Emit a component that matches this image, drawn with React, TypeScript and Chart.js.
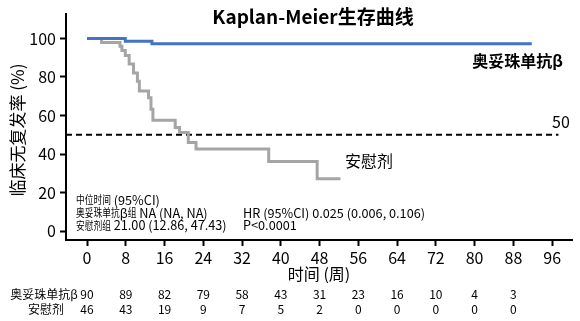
import React, { useEffect, useRef } from "react";
import { Chart, registerables } from "chart.js";

Chart.register(...registerables);

const TITLE = "Kaplan-Meier生存曲线";
const Y_TITLE = "临床无复发率 (%)";
const X_TITLE = "时间 (周)";
const SERIES_A = "奥妥珠单抗β";
const SERIES_B = "安慰剂";

const X_TICKS = [0, 8, 16, 24, 32, 40, 48, 56, 64, 72, 80, 88, 96];
const Y_TICKS = [0, 20, 40, 60, 80, 100];

const A_TIMES = [0, 7.9, 13.4, 91.8];
const A_VALUES = [100, 98.5, 97.3, 97.3];

const B_TIMES = [0, 3.0, 6.8, 7.2, 7.9, 8.7, 9.6, 10.4, 10.8, 12.7, 13.2, 13.6, 18.2, 19.1, 20.9, 22.5, 37.5, 47.5, 52.3];
const B_VALUES = [100, 97.9, 95.9, 93.7, 91.1, 86.8, 82.1, 77.8, 72.7, 69.2, 63.2, 57.6, 53.8, 51.2, 46.0, 42.6, 36.2, 27.2, 27.2];

const REF_LEVEL = 50;
const REF_END = 97.3;

const RISK_TIMES = [0, 8, 16, 24, 32, 40, 48, 56, 64, 72, 80, 88];
const RISK_A = [90, 89, 82, 79, 58, 43, 31, 23, 16, 10, 4, 3];
const RISK_B = [46, 43, 19, 9, 7, 5, 2, 0, 0, 0, 0, 0];

const ANNOT_LEFT = ["中位时间 (95%CI)", "奥妥珠单抗β组 NA (NA, NA)", "安慰剂组 21.00 (12.86, 47.43)"];
const ANNOT_RIGHT = ["HR (95%CI) 0.025 (0.006, 0.106)", "P<0.0001"];

const NARROW = "'Liberation Sans Narrow', 'Noto Sans CJK SC', sans-serif";
const CJK = "'Noto Sans CJK SC', sans-serif";

function drawMixed(ctx: any, text: string, x: number, y: number, latinPx: number, cjkPx: number, cjkScale: number) {
  const parts = text.split(/([\u4e00-\u9fff]+)/).filter((p) => p.length > 0);
  let cx = x;
  ctx.textAlign = "left";
  for (const p of parts) {
    const isCjk = /[\u4e00-\u9fff]/.test(p);
    ctx.font = isCjk ? `${cjkPx}px ${CJK}` : `${latinPx}px ${NARROW}`;
    const sc = isCjk ? cjkScale : 1;
    const w = ctx.measureText(p).width * sc;
    ctx.save();
    ctx.translate(cx, y);
    ctx.scale(sc, 1);
    ctx.fillText(p, 0, 0);
    ctx.restore();
    cx += w;
  }
}

const textPlugin = {
  id: "texts",
  afterDraw(chart: any) {
    const ctx = chart.ctx;
    const xs = chart.scales.x;
    const ca = chart.chartArea;
    ctx.save();
    ctx.fillStyle = "#000";
    ctx.textBaseline = "middle";

    ctx.font = `bold 19px ${CJK}`;
    ctx.textAlign = "center";
    ctx.fillText(TITLE, 313, 17);

    ctx.save();
    ctx.translate(18, 130);
    ctx.rotate(-Math.PI / 2);
    ctx.font = `17px ${CJK}`;
    ctx.fillText(Y_TITLE, 0, 0);
    ctx.restore();

    ctx.font = `16px ${CJK}`;
    ctx.textAlign = "center";
    ctx.fillText(X_TITLE, (ca.left + ca.right) / 2, 274);

    ctx.font = `bold 16px ${CJK}`;
    ctx.textAlign = "right";
    ctx.fillText(SERIES_A, 563, 61);

    ctx.font = `16px ${CJK}`;
    ctx.textAlign = "left";
    ctx.fillText(SERIES_B, 345, 161);

    ctx.font = `16px ${CJK}`;
    ctx.fillText(String(REF_LEVEL), 552, 122);

    ANNOT_LEFT.forEach((t, i) => drawMixed(ctx, t, 76, 200 + i * 12.8, 12.7, 11.2, 0.78));
    ANNOT_RIGHT.forEach((t, i) => drawMixed(ctx, t, 243, 212.8 + i * 12.8, 12.7, 11.2, 0.78));

    ctx.font = `12px ${NARROW}`;
    ctx.textAlign = "center";
    ctx.fillText(SERIES_A, 44, 294);
    ctx.fillText(SERIES_B, 46, 309);
    RISK_TIMES.forEach((t, i) => {
      const px = xs.getPixelForValue(t);
      ctx.fillText(String(RISK_A[i]), px, 294);
      ctx.fillText(String(RISK_B[i]), px, 309);
    });
    ctx.restore();
  },
};

export default function App() {
  const ref = useRef<HTMLCanvasElement | null>(null);
  useEffect(() => {
    if (!ref.current) return;
    const toPts = (ts: number[], vs: number[]) => ts.map((t, i) => ({ x: t, y: vs[i] }));
    const tickFont = { family: CJK, size: 16 };
    const chart = new Chart(ref.current, {
      type: "line",
      data: {
        datasets: [
          {
            label: SERIES_A,
            data: toPts(A_TIMES, A_VALUES),
            borderColor: "#4472C4",
            borderWidth: 3,
            stepped: true,
            pointRadius: 0,
            fill: false,
          },
          {
            label: SERIES_B,
            data: toPts(B_TIMES, B_VALUES),
            borderColor: "#A5A5A5",
            borderWidth: 3,
            stepped: true,
            pointRadius: 0,
            fill: false,
          },
          {
            label: "ref",
            data: [
              { x: -4.34, y: REF_LEVEL },
              { x: REF_END, y: REF_LEVEL },
            ],
            borderColor: "#000",
            borderWidth: 2,
            borderDash: [6, 4],
            pointRadius: 0,
            fill: false,
          },
        ],
      },
      options: {
        animation: false,
        responsive: false,
        maintainAspectRatio: false,
        layout: { padding: { top: 12, right: 8, left: 0, bottom: 0 } },
        plugins: { legend: { display: false }, tooltip: { enabled: false }, title: { display: false } },
        scales: {
          x: {
            type: "linear",
            min: -4.34,
            max: 100.1,
            afterBuildTicks: (s: any) => {
              s.ticks = X_TICKS.map((v) => ({ value: v }));
            },
            afterFit: (s: any) => {
              s.height = 81;
            },
            ticks: { font: tickFont, color: "#000", padding: 2, maxRotation: 0, autoSkip: false },
            grid: { display: true, drawOnChartArea: false, drawTicks: true, tickLength: 6, tickWidth: 2, tickColor: "#000" },
            border: { display: true, color: "#000", width: 2 },
          },
          y: {
            type: "linear",
            min: -4.6,
            max: 112.9,
            afterBuildTicks: (s: any) => {
              s.ticks = Y_TICKS.map((v) => ({ value: v }));
            },
            afterFit: (s: any) => {
              s.width = 66;
            },
            ticks: { font: tickFont, color: "#000", padding: 4 },
            grid: { display: true, drawOnChartArea: false, drawTicks: true, tickLength: 6, tickWidth: 2, tickColor: "#000" },
            border: { display: true, color: "#000", width: 2 },
          },
        },
      },
      plugins: [textPlugin],
    } as any);
    return () => chart.destroy();
  }, []);
  return (
    <div style={{ position: "fixed", left: 0, top: 0, width: 580, height: 321, background: "#fff" }}>
      <canvas ref={ref} width={580} height={321} style={{ width: 580, height: 321 }} />
    </div>
  );
}
